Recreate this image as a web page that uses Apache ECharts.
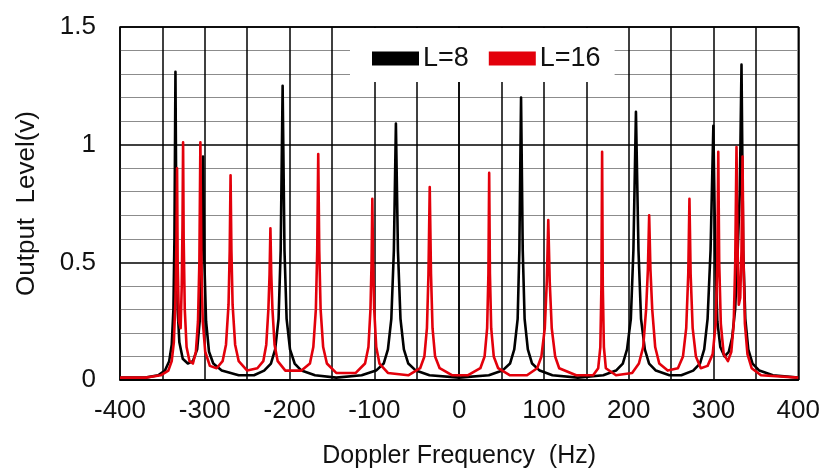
<!DOCTYPE html>
<html>
<head>
<meta charset="utf-8">
<script src="https://cdn.jsdelivr.net/npm/echarts@6/dist/echarts.min.js"></script>
<style>
html,body{margin:0;padding:0;background:#fff;}
#chart{width:823px;height:474px;}
</style>
</head>
<body>
<div id="chart"></div>
<script>
// Axis ranges / ticks
var xMin = -400, xMax = 400, xGridStep = 50, xLabelStep = 100;
var yMin = 0, yMax = 1.5, yStep = 0.5;
var seriesNames = ['L=8', 'L=16'];
var xTitle = 'Doppler Frequency  (Hz)';
var yTitle = 'Output  Level(v)';

// L=8 : [Doppler frequency (Hz), output level (V)]
var l8Data = [
  [-400,0.01],[-370,0.01],[-355,0.02],[-347,0.04],[-342,0.08],[-339,0.15],[-337,0.3],[-335.8,0.6],[-334.6,1.31],[-333.4,0.6],[-332,0.3],[-330,0.16],[-326,0.09],[-320,0.07],[-314,0.08],
  [-309,0.13],[-306,0.25],[-304,0.5],[-302.1,0.95],[-300.5,0.5],[-298.5,0.25],[-295,0.12],[-290,0.07],[-280,0.04],[-260,0.02],[-242,0.02],
  [-230,0.04],[-222,0.07],[-217,0.13],[-213,0.26],[-210.5,0.55],[-208.2,1.25],[-206,0.55],[-203.5,0.26],[-199.5,0.13],[-194,0.07],[-186,0.04],[-170,0.02],[-145,0.01],[-115,0.02],
  [-98,0.04],[-89,0.07],[-84,0.13],[-80,0.26],[-77,0.55],[-74.6,1.09],[-72.2,0.55],[-69.2,0.26],[-65.2,0.13],[-60,0.07],[-51,0.04],[-35,0.02],[0,0.01],[35,0.02],
  [51,0.04],[60,0.07],[65,0.13],[69,0.26],[71,0.55],[73,1.2],[75,0.55],[77.2,0.26],[81,0.13],[86,0.07],[95,0.04],[110,0.02],[140,0.01],[170,0.02],
  [185,0.04],[193,0.07],[198,0.13],[202.5,0.26],[205.5,0.55],[208.5,1.14],[211.5,0.55],[214.5,0.26],[219,0.13],[224,0.07],[232,0.04],[248,0.02],[262,0.02],
  [276,0.04],[284,0.07],[289,0.13],[293,0.26],[296.5,0.55],[299.8,1.08],[302,0.55],[304.5,0.25],[308,0.14],[313,0.1],[318,0.12],[322,0.18],[325.5,0.3],[328.5,0.55],[331,0.8],[333,1.34],[335,0.55],[337.5,0.26],[341,0.13],[346,0.07],[354,0.04],[370,0.02],[400,0.01]
];

// L=16 : [Doppler frequency (Hz), output level (V)]
var l16Data = [
  [-400,0.01],[-370,0.01],[-352,0.02],[-343,0.04],[-339,0.08],[-336.5,0.16],[-334.5,0.35],[-333.4,0.6],[-332.7,0.9],[-332,0.5],[-330.5,0.25],[-328.5,0.22],[-327.2,0.4],[-326.3,0.65],[-325.6,1.01],[-324.9,0.6],[-323.6,0.3],[-321.5,0.14],[-318,0.08],[-314,0.07],
  [-310.5,0.12],[-308,0.25],[-306.4,0.5],[-305.2,1.01],[-304,0.5],[-302.4,0.25],[-299.5,0.12],[-294,0.06],[-286,0.05],
  [-279,0.08],[-275,0.15],[-272,0.32],[-270.6,0.55],[-269.6,0.87],[-268.6,0.55],[-267.2,0.32],[-264.2,0.15],[-260,0.08],[-250,0.04],[-238,0.05],
  [-231,0.08],[-227.5,0.15],[-225,0.3],[-223.6,0.45],[-222.6,0.645],[-221.6,0.45],[-220.2,0.3],[-217.7,0.15],[-214,0.08],[-205,0.04],[-186,0.04],
  [-176,0.07],[-172,0.14],[-169,0.3],[-167.4,0.55],[-166.2,0.96],[-165,0.55],[-163.4,0.3],[-160.4,0.14],[-156,0.07],[-145,0.03],[-122,0.03],
  [-111,0.07],[-107,0.14],[-104.6,0.3],[-103.3,0.5],[-102.4,0.77],[-101.5,0.5],[-100.2,0.3],[-97.8,0.14],[-94,0.07],[-84,0.03],[-60,0.02],
  [-46,0.05],[-41,0.1],[-38,0.22],[-36.2,0.45],[-34.7,0.82],[-33.2,0.45],[-31.4,0.22],[-28.4,0.1],[-23,0.05],[-8,0.02],[10,0.02],
  [25,0.05],[30,0.1],[33,0.22],[34.5,0.45],[35.4,0.88],[36.3,0.45],[37.8,0.22],[40.8,0.1],[46,0.05],[60,0.02],[80,0.02],
  [92,0.05],[97,0.1],[101,0.22],[103.4,0.42],[105.1,0.68],[106.8,0.42],[109.2,0.22],[113.2,0.1],[118,0.05],[138,0.02],[158,0.02],
  [164,0.05],[166.5,0.14],[167.8,0.4],[168.6,0.97],[169.4,0.4],[170.7,0.14],[173,0.05],[185,0.02],[204,0.03],
  [212,0.07],[217,0.14],[220.5,0.3],[222.6,0.47],[224.1,0.7],[225.6,0.47],[227.7,0.3],[231.2,0.14],[236,0.07],[246,0.04],[258,0.05],
  [264,0.1],[267.8,0.22],[270.2,0.45],[271.6,0.77],[273,0.45],[275.4,0.22],[279.2,0.1],[285,0.05],[293,0.06],
  [299,0.11],[302.6,0.24],[304.5,0.5],[305.6,0.97],[306.7,0.5],[308.6,0.24],[312,0.11],[317,0.08],
  [321,0.12],[323.8,0.24],[325.6,0.5],[327.1,0.99],[328.4,0.55],[329.8,0.32],[331.5,0.35],[333,0.55],[334.2,0.95],[335.4,0.5],[337,0.24],[340,0.11],[345,0.05],[356,0.02],[400,0.01]
];

var FONT = '"Liberation Sans", Arial, Helvetica, sans-serif';
var chart = echarts.init(document.getElementById('chart'), null, {renderer: 'canvas'});
chart.setOption({
  animation: false,
  backgroundColor: '#ffffff',
  textStyle: {fontFamily: FONT},
  grid: {left: 120, right: 22, top: 27, bottom: 94, show: true, borderColor: '#000', borderWidth: 1.5, backgroundColor: 'transparent'},
  legend: {
    data: seriesNames,
    left: 350, top: 28,
    padding: [17, 14, 10, 22],
    backgroundColor: '#ffffff',
    itemWidth: 47, itemHeight: 14, itemGap: 20,
    icon: 'rect',
    textStyle: {fontSize: 27, color: '#111', fontFamily: FONT, padding: [0,0,0,-1]},
    z: 3
  },
  xAxis: {
    type: 'value', min: xMin, max: xMax, interval: xGridStep,
    axisLine: {show: true, lineStyle: {color: '#000', width: 1.5}},
    axisTick: {show: false},
    axisLabel: {
      fontSize: 26, color: '#111', margin: 18, fontFamily: FONT,
      formatter: function (v) { return (Math.round(v) % xLabelStep === 0) ? String(v) : ''; }
    },
    splitLine: {show: true, lineStyle: {color: '#000', width: 1.5}},
    name: xTitle, nameLocation: 'middle', nameGap: 64,
    nameTextStyle: {fontSize: 25, color: '#111', fontFamily: FONT}
  },
  yAxis: {
    type: 'value', min: yMin, max: yMax, interval: yStep,
    axisLine: {show: true, lineStyle: {color: '#000', width: 1.5}},
    axisTick: {show: false},
    minorTick: {show: false, splitNumber: 5},
    minorSplitLine: {show: true, lineStyle: {color: '#8c8c8c', width: 1.2}},
    axisLabel: {fontSize: 26, color: '#111', margin: 24, fontFamily: FONT},
    splitLine: {show: true, lineStyle: {color: '#000', width: 1.5}},
    name: yTitle, nameLocation: 'middle', nameGap: 80,
    nameTextStyle: {fontSize: 26, color: '#111', fontFamily: FONT}
  },
  series: [
    {
      name: seriesNames[0], type: 'line', data: l8Data,
      symbol: 'none', showSymbol: false, smooth: false,
      itemStyle: {color: '#000000'},
      lineStyle: {color: '#000000', width: 2.6, join: 'round'},
      z: 4
    },
    {
      name: seriesNames[1], type: 'line', data: l16Data,
      symbol: 'none', showSymbol: false, smooth: false,
      itemStyle: {color: '#e3000b'},
      lineStyle: {color: '#e3000b', width: 2.6, join: 'round'},
      z: 5
    }
  ]
});
</script>
</body>
</html>
